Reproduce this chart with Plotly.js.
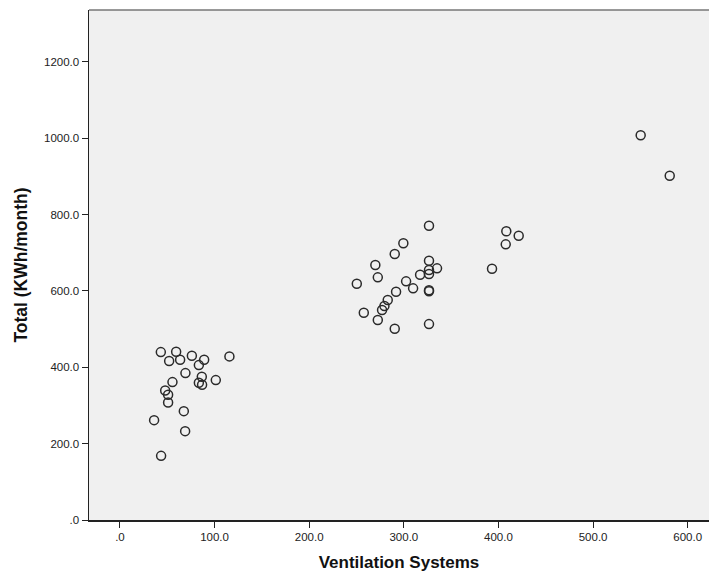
<!DOCTYPE html>
<html>
<head>
<meta charset="utf-8">
<script src="https://cdn.plot.ly/plotly-3.0.1.min.js"></script>
<style>html,body{margin:0;padding:0;background:#fff;}#chart{width:709px;height:574px;}</style>
</head>
<body>
<div id="chart"></div>
<script>
const ventilation = [
  43.2, 59.4, 52.0, 63.6, 76.0, 89.0, 83.4, 115.7, 69.2, 55.5, 86.5, 83.4, 86.8, 101.3, 47.8, 50.9, 50.9, 67.5, 36.1, 68.9, 43.5,
  326.6, 299.5, 290.4, 269.9, 272.5, 250.3, 326.6, 317.2, 326.6, 326.6, 335.1, 302.4, 309.8, 291.8, 326.6, 326.6, 283.0, 279.5, 277.0, 257.7, 272.5, 290.4, 326.6,
  408.3, 421.4, 407.7, 393.2, 550.3, 581.0
];
const total = [
  439.8, 440.6, 416.3, 419.7, 430.1, 419.7, 405.8, 428.6, 384.8, 361.2, 375.1, 359.4, 354.1, 366.5, 339.4, 327.9, 308.0, 285.2, 261.6, 232.8, 168.0,
  770.9, 724.8, 696.7, 667.9, 635.6, 618.9, 679.2, 642.5, 654.8, 644.3, 659.2, 625.2, 606.8, 597.9, 602.0, 599.0, 576.1, 560.4, 549.9, 542.9, 523.7, 500.9, 513.2,
  756.2, 744.7, 722.1, 658.2, 1007.9, 902.0
];
const xTickVals = [0, 100, 200, 300, 400, 500, 600];
const xTickText = ['.0', '100.0', '200.0', '300.0', '400.0', '500.0', '600.0'];
const yTickVals = [0, 200, 400, 600, 800, 1000, 1200];
const yTickText = ['.0', '200.0', '400.0', '600.0', '800.0', '1000.0', '1200.0'];

const tickFont = {family: '"Liberation Sans Narrow", "Arial Narrow", "Liberation Sans", Arial, sans-serif', size: 11.5, color: '#222'};
const titleFont = {family: '"Liberation Sans", Arial, sans-serif', size: 17.5, color: '#111', weight: 'bold'};

const trace = {
  x: ventilation, y: total, type: 'scatter', mode: 'markers',
  marker: {symbol: 'circle-open', size: 9, color: '#2a2a2a', line: {width: 1.5, color: '#2a2a2a'}},
  hoverinfo: 'skip'
};

const layout = {
  width: 709, height: 574,
  margin: {l: 89, r: 0, t: 10, b: 54},
  paper_bgcolor: '#ffffff',
  plot_bgcolor: '#f0f0f0',
  showlegend: false,
  xaxis: {
    range: [-32.7, 622.5], tickvals: xTickVals, ticktext: xTickText,
    showgrid: false, zeroline: false, showline: true, linecolor: '#222', linewidth: 1.5,
    ticks: 'outside', ticklen: 6, tickcolor: '#222', tickwidth: 1,
    tickfont: tickFont, automargin: false,
    title: {text: 'Ventilation Systems', font: {family: '"Liberation Sans Narrow", "Arial Narrow", "Liberation Sans", Arial, sans-serif', size: 17, color: '#111', weight: 'bold'}, standoff: 14}
  },
  yaxis: {
    range: [0, 1336], tickvals: yTickVals, ticktext: yTickText,
    showgrid: false, zeroline: false, showline: true, linecolor: '#222', linewidth: 1.5,
    ticks: 'outside', ticklen: 6, tickcolor: '#222', tickwidth: 1,
    tickfont: tickFont, automargin: false,
    title: {text: 'Total (KWh/month)', font: titleFont, standoff: 12}
  },
  shapes: [
    {type: 'line', xref: 'paper', yref: 'paper', x0: 0, x1: 1, y0: 1, y1: 1, line: {color: '#777', width: 1.5}}
  ]
};

Plotly.newPlot('chart', [trace], layout, {displayModeBar: false, staticPlot: true});
</script>
</body>
</html>
